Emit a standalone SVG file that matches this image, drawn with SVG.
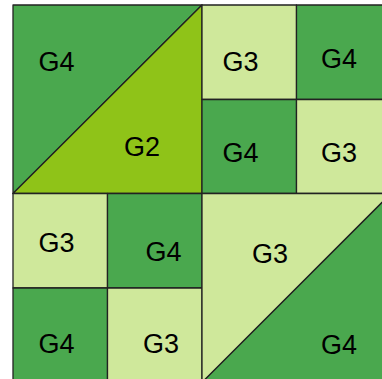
<svg xmlns="http://www.w3.org/2000/svg" width="382" height="379" viewBox="0 0 382 379">
<style>
.g4{fill:#4aa84e}
.g2{fill:#8fc318}
.g3{fill:#cfe89b}
.t{stroke:#222;stroke-width:1.3;stroke-linejoin:round}
text{font-family:"Liberation Sans",Arial,sans-serif;font-size:27px;fill:#000;text-anchor:middle}
</style>
<rect width="382" height="379" fill="#fff"/>
<g id="tl-g4"><polygon class="g4 t" points="13,5 202,5 13,193.5"/><text x="56.5" y="71">G4</text></g>
<g id="tl-g2"><polygon class="g2 t" points="202,5 202,193.5 13,193.5"/><text x="142" y="156">G2</text></g>
<g id="r1c3"><rect class="g3 t" x="202" y="5" width="94.5" height="94.5"/><text x="240.5" y="71">G3</text></g>
<g id="r1c4"><rect class="g4 t" x="296.5" y="5" width="94.5" height="94.5"/><text x="339" y="67.5">G4</text></g>
<g id="r2c3"><rect class="g4 t" x="202" y="99.5" width="94.5" height="94"/><text x="240.5" y="161.5">G4</text></g>
<g id="r2c4"><rect class="g3 t" x="296.5" y="99.5" width="94.5" height="94"/><text x="339" y="161.5">G3</text></g>
<g id="r3c1"><rect class="g3 t" x="13" y="193.5" width="94.5" height="94.5"/><text x="56.5" y="252">G3</text></g>
<g id="r3c2"><rect class="g4 t" x="107.5" y="193.5" width="94.5" height="94.5"/><text x="163.5" y="260.5">G4</text></g>
<g id="r4c1"><rect class="g4 t" x="13" y="288" width="94.5" height="94.5"/><text x="56.5" y="353">G4</text></g>
<g id="r4c2"><rect class="g3 t" x="107.5" y="288" width="94.5" height="94.5"/><text x="161" y="353">G3</text></g>
<g id="br-g3"><polygon class="g3 t" points="202,193.5 391,193.5 202,382.5"/><text x="270" y="263">G3</text></g>
<g id="br-g4"><polygon class="g4 t" points="391,193.5 391,382.5 202,382.5"/><text x="339" y="353.5">G4</text></g>
<g id="connectors"></g>
</svg>
